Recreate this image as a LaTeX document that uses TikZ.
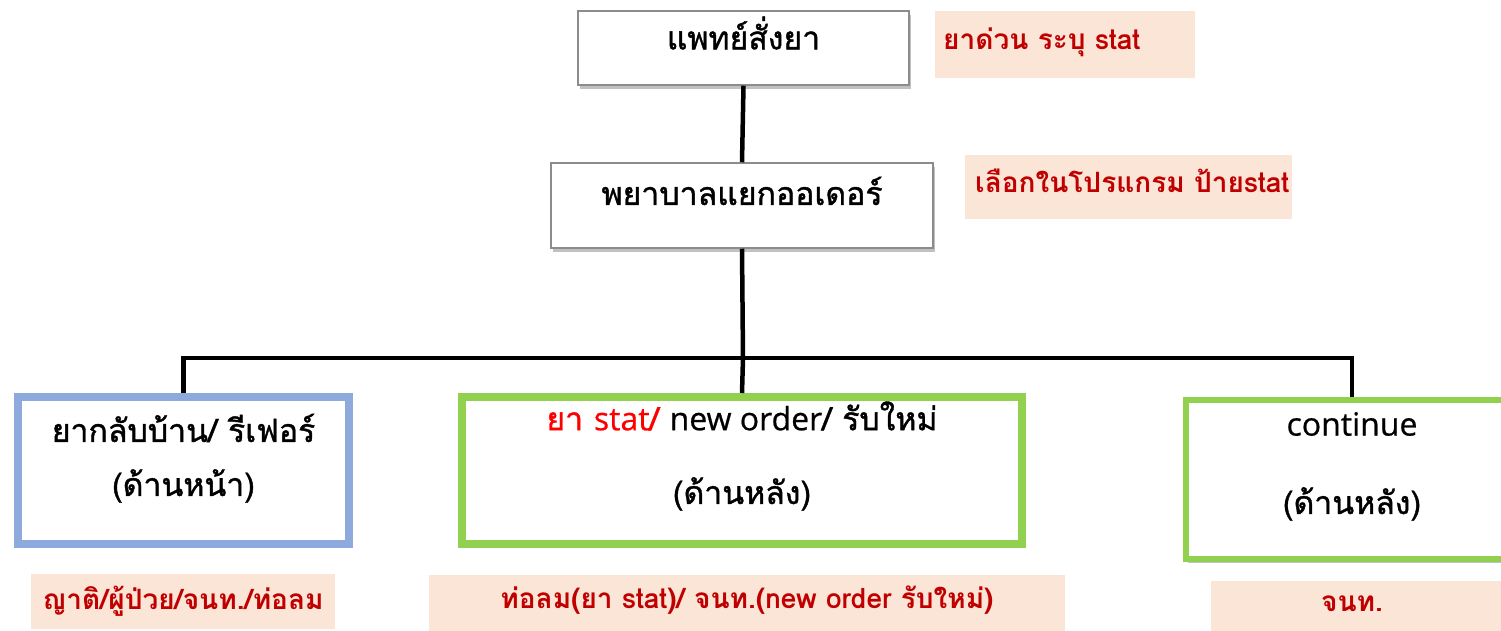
\documentclass[tikz,border=0pt]{standalone}
\usepackage{fontspec}
\setmainfont[Script=Thai]{Loma}
\newfontface\boxfont[Script=Thai,FakeBold=1.2]{Loma}
\newfontface\latfont[FakeBold=0.6]{Open Sans}
\newcommand{\lat}[1]{{\latfont #1}}
\usetikzlibrary{shadows}
\definecolor{labfill}{HTML}{FBE5D6}
\definecolor{labred}{HTML}{C00000}
\definecolor{statred}{HTML}{FF0000}
\definecolor{boxblue}{HTML}{8EA9DB}
\definecolor{boxgreen}{HTML}{92D050}
\definecolor{boxgray}{HTML}{8C8C8C}
\tikzset{
  shadowed/.style={drop shadow={shadow xshift=2pt,shadow yshift=-4pt,opacity=0.35,fill=black!70}},
  graybox/.style={draw=boxgray,line width=1.5pt,fill=white,shadowed,inner sep=0pt},
  bluebox/.style={draw=boxblue,line width=8pt,fill=white,shadowed,inner sep=0pt},
  greenbox/.style={draw=boxgreen,line width=8pt,fill=white,inner sep=0pt},
  greenbox2/.style={draw=boxgreen,line width=6pt,fill=white,shadowed,inner sep=0pt},
  labbox/.style={fill=labfill,inner sep=0pt},
  boxtext/.style={font=\fontsize{32}{38}\boxfont,text=black,inner sep=0pt},
  labtext/.style={font=\fontsize{28}{34}\selectfont\bfseries,text=labred,inner sep=0pt},
  conn/.style={line width=4.5pt,black},
}
\begin{document}
\begin{tikzpicture}[x=1pt,y=-1pt]
\useasboundingbox (0,0) rectangle (1501,631);
\clip (0,0) rectangle (1501,631);
% top boxes
\node[graybox,minimum width=331,minimum height=74] (doc) at (743.5,48) {};
\node[boxtext] (doct) at (743.5,33) {แพทย์สั่งยา};
\node[graybox,minimum width=382,minimum height=85] (ord) at (742,205.5) {};
\node[boxtext] (ordt) at (742,191) {พยาบาลแยกออเดอร์};
% side labels
\node[labbox,minimum width=260,minimum height=67] (l1) at (1065,44.5) {};
\node[labtext,anchor=west] (l1t) at (943,42) {ยาด่วน ระบุ stat};
\node[labbox,minimum width=327,minimum height=64] (l2) at (1128.5,187) {};
\node[labtext,anchor=west] (l2t) at (975,181) {เลือกในโปรแกรม ป้ายstat};
% bottom boxes
\node[bluebox,minimum width=331,minimum height=147] (home) at (183.5,470.5) {};
\node[boxtext] (homet1) at (183.5,428) {ยากลับบ้าน/ รีเฟอร์};
\node[boxtext] (homet2) at (183.5,486) {(ด้านหน้า)};
\node[greenbox,minimum width=560,minimum height=147] (new) at (742,470.5) {};
\node[boxtext] (newt1) at (742,416) {\textcolor{statred}{ยา \lat{stat}/} \lat{new order}/ รับใหม่};
\node[boxtext] (newt2) at (742,494) {(ด้านหลัง)};
\node[greenbox2,minimum width=332,minimum height=159] (cont) at (1352,479.5) {};
\node[boxtext] (contt1) at (1352,424) {\lat{continue}};
\node[boxtext] (contt2) at (1352,504) {(ด้านหลัง)};
% bottom labels
\node[labbox,minimum width=304,minimum height=55] (l3) at (183,601.5) {};
\node[labtext] (l3t) at (183,601) {ญาติ/ผู้ป่วย/จนท./ท่อลม};
\node[labbox,minimum width=636,minimum height=56] (l4) at (747,603) {};
\node[labtext] (l4t) at (747,600) {ท่อลม(ยา stat)/ จนท.(new order รับใหม่)};
\node[labbox,minimum width=290,minimum height=50] (l5) at (1356,606) {};
\node[labtext] (l5t) at (1352,604) {จนท.};
% connectors
\coordinate (bus) at (743,358);
\draw[conn] (doc.south) -- (ord.north);
\draw[conn] (ord.south) -- (bus);
\draw[conn] (home.north) |- (bus) -| (cont.north);
\draw[conn] (bus) -- (new.north);
\end{tikzpicture}
\end{document}
